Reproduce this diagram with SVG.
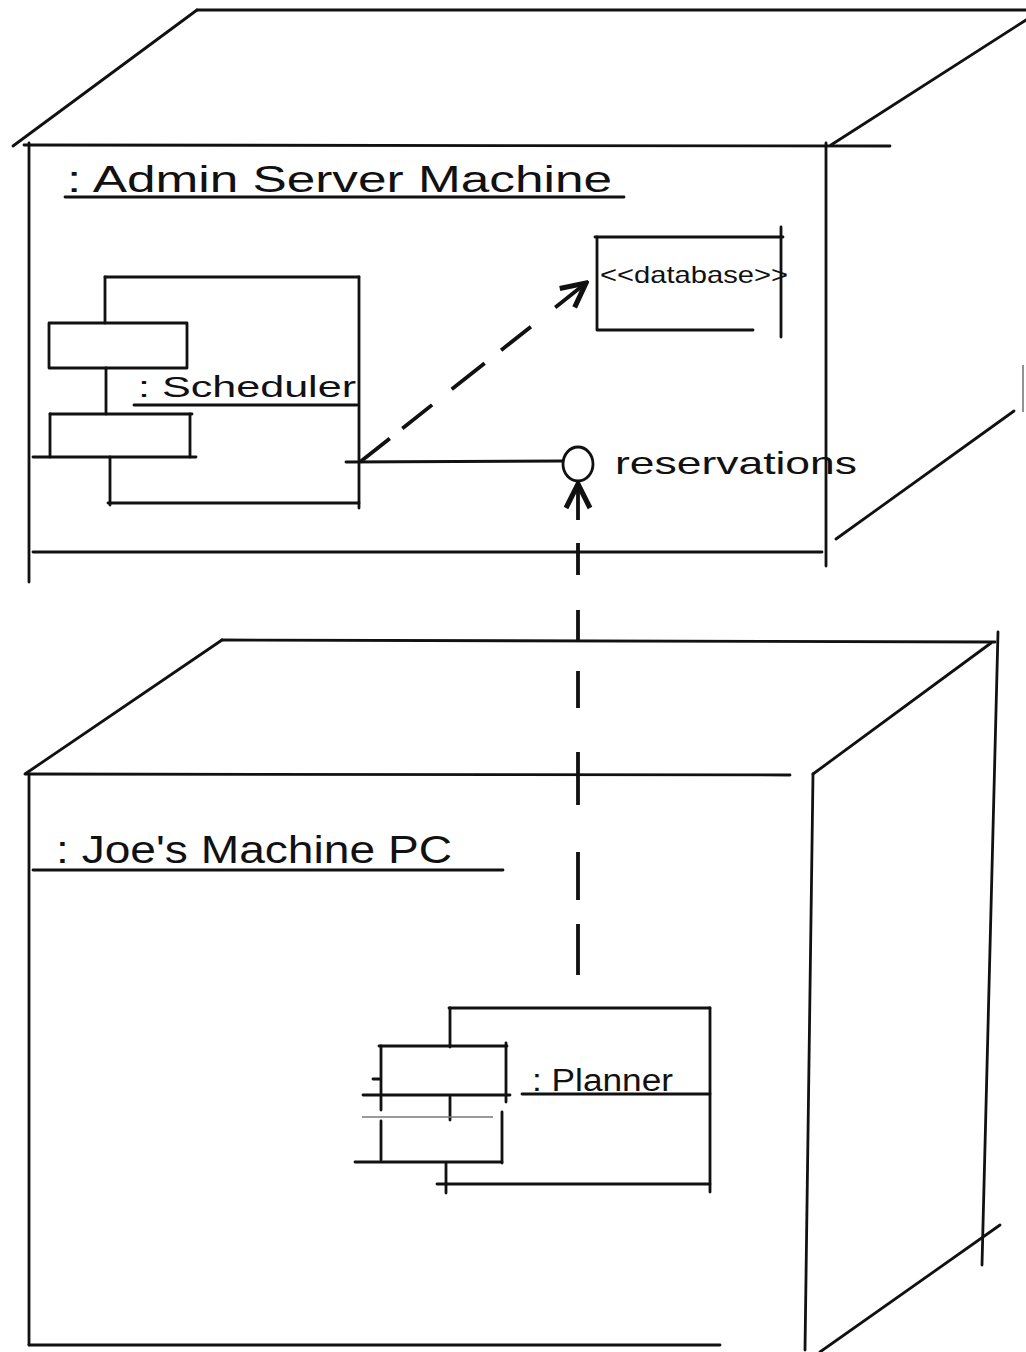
<svg xmlns="http://www.w3.org/2000/svg" width="1026" height="1352" viewBox="0 0 1026 1352">
<style>
.ln{fill:none;stroke:#111;stroke-width:2.8;stroke-linecap:round;stroke-linejoin:round}
.faint{fill:none;stroke:#777;stroke-width:1.6}
.hand{font-family:"Liberation Sans","DejaVu Sans",sans-serif;fill:#111}
.con{fill:none;stroke:#111;stroke-width:3.8;stroke-linecap:butt}
</style>
<defs>
<marker id="openArrow" viewBox="0 0 20 20" refX="18" refY="10" markerWidth="30" markerHeight="30" markerUnits="userSpaceOnUse" orient="auto">
<path d="M2,2 L18,10 L2,18" fill="none" stroke="#111" stroke-width="3.4"/>
</marker>
</defs>
<rect width="1026" height="1352" fill="#fff"/>

<g id="node-admin-server">
<path class="ln" d="M197,10 L1026,10"/>
<path class="ln" d="M197,10 L13,146"/>
<path class="ln" d="M1026,20 L831,145"/>
<path class="ln" d="M24,145 L890,146"/>
<path class="ln" d="M29,143 L29,582"/>
<path class="ln" d="M826,143 L826,566"/>
<path class="ln" d="M33,552 L822,552"/>
<path class="ln" d="M1014,411 L836,539"/>
<path class="faint" d="M1023,365 L1023,412"/>
<text class="hand" x="67" y="192" font-size="36" textLength="545" lengthAdjust="spacingAndGlyphs">: Admin Server Machine</text>
<path class="ln" d="M65,197 L624,197"/>
</g>

<g id="node-database">
<path class="ln" d="M595,237 L783,237"/>
<path class="ln" d="M597,237 L597,329"/>
<path class="ln" d="M597,330 L753,330"/>
<path class="ln" d="M781,227 L781,337"/>
<text class="hand" x="600" y="283" font-size="24" textLength="188" lengthAdjust="spacingAndGlyphs">&lt;&lt;database&gt;&gt;</text>
</g>

<g id="node-scheduler">
<path class="ln" d="M105,277 L359,277"/>
<path class="ln" d="M359,277 L359,508"/>
<path class="ln" d="M108,503 L359,503"/>
<path class="ln" d="M105,277 L105,323"/>
<path class="ln" d="M106,368 L106,414"/>
<path class="ln" d="M110,457 L110,505"/>
<path class="ln" d="M49,323 L187,323 L187,368 L49,368 Z"/>
<path class="ln" d="M50,414 L192,414"/>
<path class="ln" d="M50,414 L50,457"/>
<path class="ln" d="M190,414 L190,457"/>
<path class="ln" d="M33,457 L196,457"/>
<text class="hand" x="138" y="397" font-size="29" textLength="218" lengthAdjust="spacingAndGlyphs">: Scheduler</text>
<path class="ln" d="M134,405 L357,405"/>
</g>

<g id="node-reservations">
<ellipse cx="578" cy="464" rx="15" ry="17" fill="none" stroke="#111" stroke-width="2.8"/>
<text class="hand" x="615" y="474" font-size="32" textLength="242" lengthAdjust="spacingAndGlyphs">reservations</text>
</g>

<g id="node-joes-machine">
<path class="ln" d="M222,640 L995,642"/>
<path class="ln" d="M222,640 L25,774"/>
<path class="ln" d="M26,774 L790,775"/>
<path class="ln" d="M29,774 L29,1345"/>
<path class="ln" d="M29,1345 L720,1345"/>
<path class="ln" d="M813,774 L805,1350"/>
<path class="ln" d="M813,774 L991,643"/>
<path class="ln" d="M998,632 L982,1265"/>
<path class="ln" d="M1000,1225 L820,1352"/>
<text class="hand" x="56" y="863" font-size="38" textLength="396" lengthAdjust="spacingAndGlyphs">: Joe's Machine PC</text>
<path class="ln" d="M33,870 L503,870"/>
</g>

<g id="node-planner">
<path class="ln" d="M449,1008 L710,1008"/>
<path class="ln" d="M710,1008 L710,1192"/>
<path class="ln" d="M437,1184 L710,1184"/>
<path class="ln" d="M450,1008 L450,1047"/>
<path class="ln" d="M450,1097 L450,1120"/>
<path class="ln" d="M446,1163 L446,1193"/>
<path class="ln" d="M379,1046 L507,1046"/>
<path class="ln" d="M381,1046 L381,1110"/>
<path class="ln" d="M381,1121 L381,1160"/>
<path class="ln" d="M506,1043 L506,1102"/>
<path class="ln" d="M363,1095 L510,1095"/>
<path class="faint" d="M362,1117 L493,1117"/>
<path class="ln" d="M502,1112 L502,1163"/>
<path class="ln" d="M355,1162 L502,1162"/>
<path class="ln" d="M373,1079 L380,1079"/>
<text class="hand" x="532" y="1091" font-size="31" textLength="141" lengthAdjust="spacingAndGlyphs">: Planner</text>
<path class="ln" d="M522,1094 L710,1094"/>
</g>

<g id="connectors">
<path class="ln" d="M346,462 L563,461"/>
<path class="con" d="M360,462 L586,283" stroke-dasharray="38 16 38 25 42 21 38 31 40" marker-end="url(#openArrow)"/>
<path class="con" d="M578,975 L578,484" stroke-dasharray="51 24 48 47 53 44 37 31 30 35 32 23 40" marker-end="url(#openArrow)"/>
</g>
</svg>
